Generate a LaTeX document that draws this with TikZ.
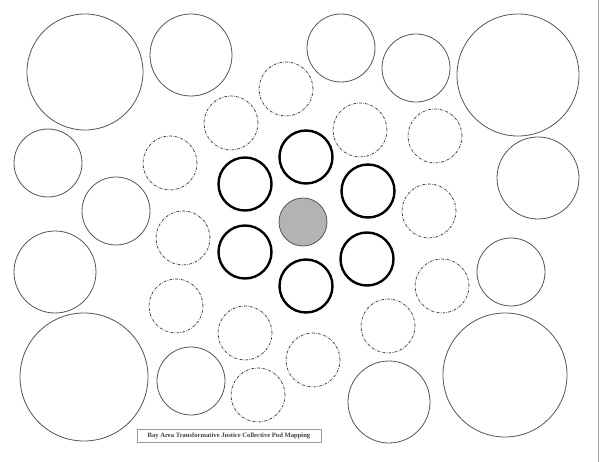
\documentclass[tikz,border=0pt]{standalone}
\usepackage{fontspec}
\setmainfont{Liberation Serif}
\definecolor{thinc}{HTML}{555555}
\definecolor{dashc}{HTML}{444444}
\definecolor{selffill}{HTML}{B3B3B3}
\begin{document}
\begin{tikzpicture}[x=1pt,y=-1pt,
  ring/.style={circle,inner sep=0pt,outer sep=0pt,minimum size=#1},
  outerc/.style={ring=#1,draw=thinc,line width=0.8pt},
  podc/.style={ring=#1,draw=dashc,line width=0.8pt,dash pattern=on 2.6pt off 1.3pt on 0.6pt off 1.3pt},
  corec/.style={ring=#1,draw=black,line width=2.4pt},
  selfc/.style={ring=#1,draw=thinc,fill=selffill,line width=0.8pt},
  captionbox/.style={draw=gray!80,line width=0.6pt,minimum width=184pt,minimum height=13pt,inner sep=0pt,
    font=\fontsize{6.6}{7.5}\selectfont\bfseries,text=black!75}
]
\useasboundingbox (0,0) rectangle (600,462);
\fill[white] (0,0) rectangle (600,462);
\draw[gray!70,line width=1pt] (598,0) -- (598,462);

% self
\node[selfc=48pt] (self) at (303,222) {};

% core ring
\node[corec=53pt] (c1) at (306,157) {};
\node[corec=53pt] (c2) at (245,184) {};
\node[corec=53pt] (c3) at (368,191) {};
\node[corec=53pt] (c4) at (245,252) {};
\node[corec=53pt] (c5) at (367,259) {};
\node[corec=53pt] (c6) at (306,286) {};

% pod ring (dash-dot)
\node[podc=54pt] (p1) at (286,89) {};
\node[podc=54pt] (p2) at (231,123) {};
\node[podc=54pt] (p3) at (170,163) {};
\node[podc=54pt] (p4) at (360,130) {};
\node[podc=54pt] (p5) at (435,136) {};
\node[podc=54pt] (p6) at (429,211) {};
\node[podc=54pt] (p7) at (183,238) {};
\node[podc=54pt] (p8) at (442,286) {};
\node[podc=54pt] (p9) at (176,306) {};
\node[podc=54pt] (p10) at (245,333) {};
\node[podc=54pt] (p11) at (388,326) {};
\node[podc=54pt] (p12) at (313,360) {};
\node[podc=54pt] (p13) at (258,395) {};

% outer circles
\node[outerc=116pt] (o1) at (85,72) {};
\node[outerc=82pt] (o2) at (191,55) {};
\node[outerc=68pt] (o3) at (341,48) {};
\node[outerc=68pt] (o4) at (416,68) {};
\node[outerc=122pt] (o5) at (518,75) {};
\node[outerc=68pt] (o6) at (48,163) {};
\node[outerc=68pt] (o7) at (116,211) {};
\node[outerc=82pt] (o8) at (538,178) {};
\node[outerc=82pt] (o9) at (55,272) {};
\node[outerc=68pt] (o10) at (511,272) {};
\node[outerc=128pt] (o11) at (84,377) {};
\node[outerc=68pt] (o12) at (191,381) {};
\node[outerc=82pt] (o13) at (389,402) {};
\node[outerc=124pt] (o14) at (505,375) {};

% caption
\node[captionbox] (cap) at (229,435.5) {Bay Area Transformative Justice Collective Pod Mapping};
\end{tikzpicture}
\end{document}
